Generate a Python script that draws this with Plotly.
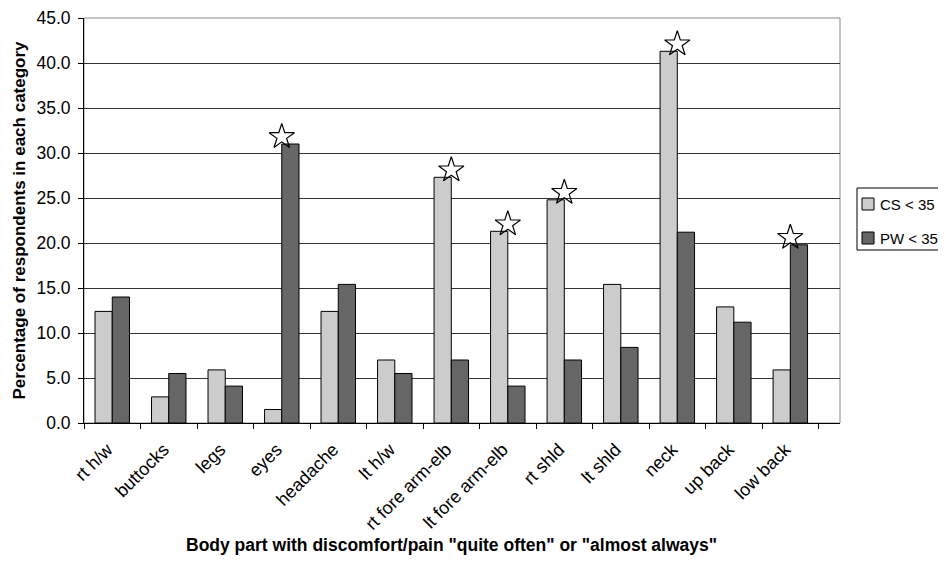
import plotly.graph_objects as go

categories = ["rt h/w", "buttocks", "legs", "eyes", "headache", "lt h/w",
              "rt fore arm-elb", "lt fore arm-elb", "rt shld", "lt shld",
              "neck", "up back", "low back"]
cs_values = [12.4, 2.9, 5.9, 1.5, 12.4, 7.0, 27.3, 21.3, 24.8, 15.4, 41.3, 12.9, 5.9]
pw_values = [14.0, 5.5, 4.1, 31.0, 15.4, 5.5, 7.0, 4.1, 7.0, 8.4, 21.2, 11.2, 19.8]
# categories flagged with a star (significant difference)
significant = [False, False, False, True, False, False, True, True, True, False, True, False, True]
y_ticks = [0, 5, 10, 15, 20, 25, 30, 35, 40, 45]
series_names = ["CS < 35", "PW < 35"]
series_colors = ["#CCCCCC", "#666666"]

FONT = "Liberation Sans, Arial, sans-serif"

# figure geometry; the page body adds an 8px offset, so the figure is kept
# small enough to avoid scrollbars and positions are given in figure pixels
W, H = 930, 550
ML, MR, MT, MB = 76, 98, 10, 135
PW_, PH_ = W - ML - MR, H - MT - MB


def px_x(x):  # figure pixel -> paper x
    return (x - ML) / PW_


def px_y(y):  # figure pixel -> paper y
    return (H - MB - y) / PH_


fig = go.Figure()
for name, vals, col in zip(series_names, [cs_values, pw_values], series_colors):
    fig.add_trace(go.Bar(
        x=categories, y=vals, name=name, showlegend=False,
        marker=dict(color=col, line=dict(color="black", width=1)),
    ))

star_x = [c for c, s in zip(categories, significant) if s]
star_y = [max(a, b) + 0.8 for a, b, s in zip(cs_values, pw_values, significant) if s]
fig.add_trace(go.Scatter(
    x=star_x, y=star_y, mode="markers", showlegend=False, hoverinfo="skip",
    marker=dict(symbol="star-open", size=19, color="black", line=dict(width=1.2, color="black")),
))

shapes = [
    # gray top/right border of plot area
    dict(type="rect", xref="paper", yref="paper", x0=0, y0=0, x1=1, y1=1,
         line=dict(color="#888888", width=1), layer="below"),
    # legend box (right side runs off the page, as in the original)
    dict(type="rect", xref="paper", yref="paper",
         x0=px_x(849), x1=px_x(960), y0=px_y(242), y1=px_y(180),
         line=dict(color="black", width=1), fillcolor="white"),
]
annotations = []
row_centers = [196, 230]
for name, col, yc in zip(series_names, series_colors, row_centers):
    shapes.append(dict(type="rect", xref="paper", yref="paper",
                       x0=px_x(854), x1=px_x(866), y0=px_y(yc + 6), y1=px_y(yc - 6),
                       line=dict(color="black", width=1), fillcolor=col))
    annotations.append(dict(text=name, xref="paper", yref="paper", x=px_x(870), y=px_y(yc),
                            xanchor="left", yanchor="middle", showarrow=False,
                            font=dict(size=15, family=FONT, color="black")))

annotations.append(dict(
    text='<b>Body part with discomfort/pain "quite often" or "almost always"</b>',
    xref="paper", yref="paper", x=px_x(443), y=px_y(537), xanchor="center", yanchor="middle",
    showarrow=False, font=dict(size=17.5, family=FONT, color="black")))

fig.update_layout(
    width=W, height=H,
    margin=dict(l=ML, r=MR, t=MT, b=MB, autoexpand=False),
    paper_bgcolor="white", plot_bgcolor="white",
    barmode="group", bargap=0.39, bargroupgap=0,
    font=dict(family=FONT, size=16, color="black"),
    showlegend=False,
    shapes=shapes, annotations=annotations,
)
fig.update_xaxes(
    type="category", tickson="boundaries", ticks="outside", ticklen=5,
    tickcolor="black", showline=True, linecolor="black", linewidth=1,
    mirror=False, tickangle=-45, tickfont=dict(size=18),
    ticklabelstandoff=8, ticklabelshift=-5,
    showgrid=False, automargin=False, ticklabeloverflow="allow",
)
fig.update_yaxes(
    range=[0, 45], tickvals=y_ticks, tickformat=".1f", ticks="outside", ticklen=5,
    tickcolor="black", showline=True, linecolor="black", linewidth=1,
    gridcolor="#333333", gridwidth=1, tickfont=dict(size=17.5), ticklabelstandoff=4,
    title=dict(text="<b>Percentage of respondents in each category</b>",
               font=dict(size=17), standoff=6),
    zeroline=False, automargin=False, ticklabeloverflow="allow",
)

fig.write_html("out.html")
